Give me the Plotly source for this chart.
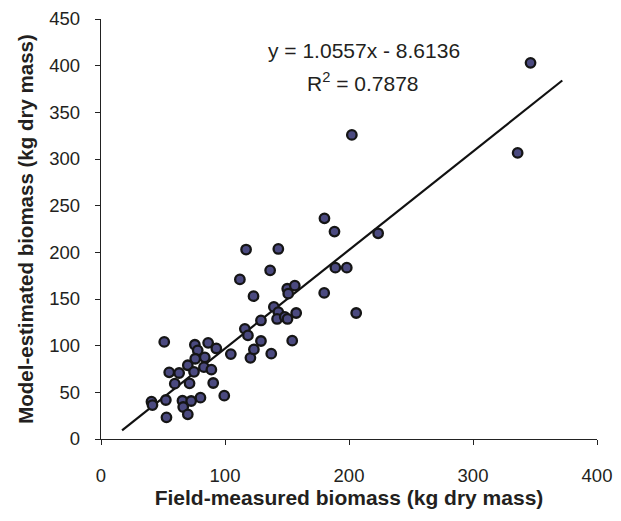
import plotly.graph_objects as go

# Field-measured biomass (kg dry mass)
field_measured = [117, 112, 123, 116, 118.5, 120.5, 123.3, 104.7, 51, 75.7,
                  78, 86.4, 93, 76, 83.7, 70, 83, 75, 89, 55,
                  63, 59.5, 71.4, 90.5, 99.4, 40.7, 41.5, 52.3, 65.7, 72.7,
                  80.2, 66.3, 70, 52.8, 129, 129, 202.3, 180.2, 188.3, 223.5,
                  143, 136.4, 189, 198.2, 346.4, 336, 180, 150.2, 156.3, 151,
                  139.4, 143, 157.4, 205.8, 142, 148.2, 150.4, 154.2, 137.3]
# Model-estimated biomass (kg dry mass)
model_estimated = [203, 171, 153, 118, 111, 87, 96, 91, 104, 101,
                   95, 103, 97, 86, 87.5, 79, 77, 72, 74.3, 71.4,
                   70.7, 59.3, 59.6, 60, 46.4, 40, 36.4, 41.8, 41, 40.7,
                   44.3, 34.3, 26.4, 23.2, 127, 105, 325.8, 236.4, 222.2, 220.4,
                   203.6, 180.7, 183.6, 183.6, 403, 306.5, 156.5, 161, 164.3, 155.7,
                   141.5, 136, 135, 135, 128.6, 130.8, 128.6, 105.4, 91.4]

slope = 1.0557
intercept = -8.6136
r_squared = 0.7878
fit_x = [17, 372]
fit_y = [slope * v + intercept for v in fit_x]

x_ticks = [0, 100, 200, 300, 400]
y_ticks = [0, 50, 100, 150, 200, 250, 300, 350, 400, 450]

text_color = "#231f20"
font_family = "Liberation Sans, Arial, sans-serif"

fig = go.Figure()
fig.add_trace(go.Scatter(x=fit_x, y=fit_y, mode="lines",
                         line=dict(color="#111111", width=2.2),
                         showlegend=False, hoverinfo="skip"))
fig.add_trace(go.Scatter(x=field_measured, y=model_estimated, mode="markers",
                         marker=dict(size=9.5, color="#4b4a80",
                                     line=dict(color="#151515", width=2.3)),
                         showlegend=False))

fig.add_annotation(x=212, y=416, xref="x", yref="y",
                   text=f"y = {slope}x - {abs(intercept)}", showarrow=False,
                   font=dict(family=font_family, size=21, color=text_color))
fig.add_annotation(x=211, y=383, xref="x", yref="y",
                   text=f"R<sup>2</sup> = {r_squared}", showarrow=False,
                   font=dict(family=font_family, size=21, color=text_color))

fig.update_layout(
    width=621, height=521,
    margin=dict(l=92.5, r=32, t=11, b=90),
    paper_bgcolor="white", plot_bgcolor="white",
    font=dict(family=font_family, size=18.5, color=text_color),
    xaxis=dict(range=[0, 400], tickvals=x_ticks, showgrid=False, zeroline=False,
               automargin=False,
               showline=True, linecolor="#222222", linewidth=1.3,
               ticks="outside", ticklen=5, tickcolor="#222222", tickwidth=1.3,
               ticklabelstandoff=15,
               title=dict(text="<b>Field-measured biomass (kg dry mass)</b>",
                          font=dict(size=21), standoff=0)),
    yaxis=dict(range=[0, 450], tickvals=y_ticks, showgrid=False, zeroline=False,
               automargin=False,
               showline=True, linecolor="#222222", linewidth=1.3,
               ticks="outside", ticklen=5, tickcolor="#222222", tickwidth=1.3,
               ticklabelstandoff=11,
               title=dict(text="<b>Model-estimated biomass (kg dry mass)</b>",
                          font=dict(size=20.5), standoff=10)),
)

fig.write_html("out.html")
